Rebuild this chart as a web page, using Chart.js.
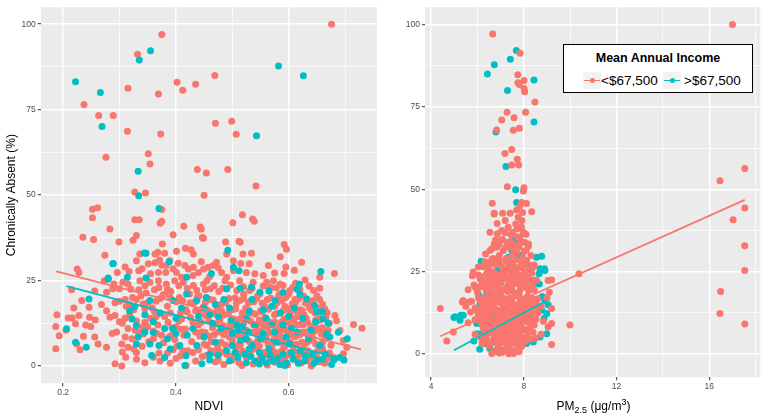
<!DOCTYPE html>
<html><head><meta charset="utf-8">
<script src="https://cdn.jsdelivr.net/npm/chart.js@4/dist/chart.umd.min.js"></script>
<style>
html,body{margin:0;padding:0;background:#fff;}
#wrap{position:relative;width:767px;height:414px;overflow:hidden;font-family:'Liberation Sans',Arial,sans-serif;}
.box{position:absolute;top:0;height:414px;}
#xt2{position:absolute;left:493.5px;width:200px;top:399px;line-height:14px;text-align:center;font-size:12px;color:#000;white-space:nowrap;}
#xt2 sub{font-size:9px;vertical-align:-3px;line-height:0;}
#xt2 sup{font-size:9px;vertical-align:5px;line-height:0;}
#legend{position:absolute;left:563px;top:44px;width:190px;height:49px;border:1.5px solid #000;background:#fff;box-sizing:border-box;}
#legend .t{position:absolute;left:0;right:0;top:6px;text-align:center;font-weight:bold;font-size:12.5px;line-height:15px;color:#000;}
#legend .k{position:absolute;top:27px;width:18px;height:17px;background:#f2f2f2;}
#legend .k i{position:absolute;left:1px;right:1px;top:7.5px;height:1.6px;}
#legend .k b{position:absolute;left:6.5px;top:6px;width:5px;height:5px;border-radius:50%;}
#legend .l{position:absolute;top:28px;font-size:13.5px;line-height:16px;color:#000;}
</style></head><body>
<div id="wrap">
 <div class="box" style="left:0;width:383px"><canvas id="c1"></canvas></div>
 <div class="box" style="left:383px;width:384px"><canvas id="c2"></canvas></div>
 <div id="xt2">PM<sub>2.5</sub> (μg/m<sup>3</sup>)</div>
 <div id="legend">
  <div class="t">Mean Annual Income</div>
  <div class="k" style="left:19px"><i style="background:#F8766D"></i><b style="background:#F8766D"></b></div>
  <div class="l" style="left:37px">&lt;$67,500</div>
  <div class="k" style="left:99px"><i style="background:#00BFC4"></i><b style="background:#00BFC4"></b></div>
  <div class="l" style="left:120px">&gt;$67,500</div>
 </div>
</div>
<script>
const seriesNames = ['<$67,500', '>$67,500'];
const xTicksNdviMajor = [0.2, 0.4, 0.6];
const xTicksNdviMinor = [0.3, 0.5, 0.7];
const xTicksPmMajor = [4, 8, 12, 16];
const xTicksPmMinor = [6, 10, 14, 18];
const yTicksMajor = [0, 25, 50, 75, 100];
const yTicksMinor = [12.5, 37.5, 62.5, 87.5];

// NDVI panel, income < $67,500
const ndviLow = [
[0.676,100],[0.375,97],[0.332,91.2],[0.402,83],[0.412,80.7],[0.435,82.4],[0.469,85],[0.315,81.3],[0.369,79.6],[0.237,76.5],[0.263,73.3],[0.289,73.3],[0.314,68.7],[0.373,67.9],[0.470,71],[0.499,71.6],[0.507,67.8],[0.276,61.1],[0.351,62.1],[0.354,59.1],[0.438,57.5],[0.454,56.5],[0.492,57.5],[0.542,52.7],[0.327,50.9],[0.346,50.6],[0.450,50],[0.252,45.9],[0.261,46.3],[0.252,43.4],[0.375,45.8],[0.327,42.8],[0.335,42.8],[0.375,42.4],[0.372,41.8],[0.414,40.9],[0.443,40.7],[0.445,40.1],[0.448,37.4],[0.501,41.9],[0.518,44.3],[0.536,43],[0.539,42.4],[0.395,38.4],[0.283,40.1],[0.235,37.7],[0.254,37],[0.299,36.3],[0.324,36.8],[0.330,38.2],[0.376,35.7],[0.488,36.3],[0.512,36.5],[0.592,35.6],[0.274,32.4],[0.623,30.4],[0.681,27.1],
[0.336,32.8],[0.363,32.8],[0.368,33.3],[0.380,33],[0.401,33.6],[0.417,34.5],[0.431,32.8],[0.427,34],[0.447,37.6],[0.389,30.8],[0.330,30.8],[0.351,29.9],[0.363,30.2],[0.371,31],[0.383,29.4],[0.404,30.1],[0.416,29.4],[0.431,28.9],[0.449,28.4],[0.225,28.4],[0.228,27.4],[0.296,27.4],[0.317,27.7],[0.334,27.9],[0.369,27.4],[0.382,27.4],[0.401,27.4],[0.422,28.4],[0.440,27.4],
[0.490,32.8],[0.519,32.8],[0.514,36.2],[0.534,33],[0.472,30.4],[0.502,30.8],[0.530,29.9],[0.466,29.4],[0.457,28.9],[0.564,29.4],[0.481,27.4],[0.502,27.9],[0.525,27.4],[0.592,27.1],[0.449,37.5],
[0.273,25],[0.306,24.5],[0.315,24],[0.336,25],[0.354,24.5],[0.369,25],[0.383,24],[0.398,25],[0.413,24.5],[0.431,23.6],[0.449,24],[0.455,25],[0.487,25],[0.513,25],[0.537,24.5],[0.561,24.5],[0.573,25],[0.585,24],[0.612,24.2],[0.629,25.2],
[0.215,22.3],[0.256,22],[0.277,21.6],[0.288,22.6],[0.300,22.6],[0.323,20.1],[0.334,22.3],[0.347,21.4],[0.362,22.3],[0.377,20.8],[0.391,21.8],[0.406,20.1],[0.424,21.1],[0.441,20.6],[0.461,22.6],[0.476,21.8],[0.508,22.1],[0.531,22.1],[0.549,21.1],[0.566,22.6],[0.584,21.1],[0.602,22.1],[0.644,22.1],[0.650,20.6],
[0.233,19.2],[0.246,17.2],[0.277,16.2],[0.292,18.5],[0.31,19.5],[0.342,18.2],[0.358,17],[0.372,19.8],[0.385,17.5],[0.401,18.8],[0.418,16.5],[0.432,18.5],[0.448,17.2],[0.46,19.5],[0.473,16.8],[0.488,18.5],[0.5,16.5],[0.513,19.2],[0.524,17],[0.538,18.8],[0.55,16.2],[0.562,19.5],[0.575,17.5],[0.588,19.2],[0.598,16.8],[0.612,18.5],[0.624,16.2],[0.636,18],[0.655,19.5],[0.664,16.7],
[0.189,15],[0.187,11.6],[0.209,14.1],[0.216,14.1],[0.222,12.4],[0.228,14.8],[0.247,14.3],[0.249,11.6],[0.257,13.5],[0.283,14.3],[0.292,14.8],[0.305,12.5],[0.318,15],[0.33,13.2],[0.341,11.5],[0.355,14],[0.368,12],[0.38,14.5],[0.393,11.2],[0.405,13.2],[0.417,10.8],[0.426,14.2],[0.44,12],[0.452,14.8],[0.465,11.2],[0.478,13.5],[0.49,10.5],[0.502,13.8],[0.514,11.5],[0.526,14.5],[0.538,12],[0.548,10.2],[0.558,14.2],[0.57,12.2],[0.58,10.5],[0.592,13.8],[0.604,11.5],[0.616,14.5],[0.626,12.2],[0.638,10.8],[0.648,13.5],[0.66,11.2],[0.682,14.8],[0.685,13.3],[0.715,12.2],[0.73,11.1],[0.672,12.5],
[0.193,8.9],[0.236,8.7],[0.224,6.5],[0.256,8.5],[0.262,6.5],[0.277,5.5],[0.295,10],[0.304,6.5],[0.342,9.4],[0.322,8],[0.352,7.2],[0.366,9.5],[0.378,6.8],[0.39,8.8],[0.402,5.8],[0.414,9],[0.428,7.2],[0.442,8.8],[0.455,6],[0.468,9.2],[0.48,7],[0.495,8.5],[0.506,5.5],[0.518,9.5],[0.53,7.2],[0.542,5.2],[0.552,8.6],[0.564,6.2],[0.576,9],[0.586,6.8],[0.597,8.2],[0.608,5.8],[0.62,9.2],[0.632,6.8],[0.642,8.5],[0.654,5.5],[0.665,8.2],[0.691,10.4],[0.697,7.5],
[0.187,5.1],[0.23,4.8],[0.305,4.1],[0.311,2.6],[0.292,0.7],[0.304,0],[0.36,2.6],[0.385,3.8],[0.4,2.2],[0.418,0.2],[0.43,4],[0.447,2.8],[0.462,4.5],[0.475,1.8],[0.49,3.5],[0.517,0.2],[0.53,3.2],[0.545,1.5],[0.556,4],[0.568,2],[0.58,3.8],[0.592,1.2],[0.603,3.5],[0.615,1.8],[0.638,2.6],[0.65,4.2],[0.664,0.8],[0.679,2.6],[0.703,5.5],[0.697,3.6],[0.64,0],
[0.505,20],[0.515,14],[0.52,21],[0.525,2.5],[0.535,15.5],[0.54,10],[0.545,20.5],[0.548,13.5],[0.553,3],[0.557,17.5],[0.56,8.5],[0.565,13],[0.568,23],[0.572,4.5],[0.575,15],[0.578,11],[0.582,20.5],[0.585,2.5],[0.588,13],[0.59,7.5],[0.593,17.5],[0.596,10.5],[0.6,21],[0.602,4],[0.605,14],[0.608,9],[0.611,19.5],[0.614,12],[0.617,3],[0.62,16.5],[0.623,7],[0.626,20.5],[0.628,10],[0.631,14],[0.634,4.5],[0.637,17],[0.64,11.5],[0.643,8],[0.647,15.5],[0.65,2.5],[0.653,11],[0.657,17],[0.66,7],[0.568,6.5],[0.556,11.5],[0.545,7.5],[0.533,19],[0.525,10.5],[0.512,6.5],[0.498,11.5],[0.485,15],[0.472,4.5],[0.459,16],[0.446,10],[0.435,19],[0.421,4.5],[0.408,15.5],[0.395,9.5],[0.38,21],[0.362,16],[0.35,11.5],[0.338,20.5],[0.325,5],[0.312,17.5],[0.3,13],[0.287,9.5],[0.268,18],[0.24,12],[0.219,17],[0.205,10.5],
[0.61,28],[0.595,29],[0.655,26],[0.585,32],[0.596,34.2],
[0.47,1.2],[0.485,0.5],[0.5,1.8],[0.512,1],[0.537,0.6],[0.55,2.2],[0.562,0.3],[0.575,1.1],[0.598,0.4],[0.61,2.5],[0.622,0.9],[0.633,1.6],[0.655,1.2],[0.668,2.2],
[0.455,3.2],[0.468,3.8],[0.482,4.1],[0.497,2.9],[0.51,3.6],[0.518,4.4],[0.535,4.8],[0.562,3.3],[0.574,3.1],[0.588,4.5],[0.596,3],[0.61,4.2],[0.627,3.4],[0.645,2.9],[0.66,4.6],[0.672,3.8],
[0.45,6.4],[0.462,7.1],[0.474,5.6],[0.488,6.2],[0.5,7.4],[0.514,6.1],[0.524,7.8],[0.537,6.4],[0.548,5.9],[0.558,7.6],[0.57,5.4],[0.582,7.8],[0.592,5.5],[0.603,7],[0.614,6.4],[0.626,5.2],[0.637,7.5],[0.648,6.5],[0.66,5.2],[0.675,6.1],
[0.452,9.8],[0.461,8.7],[0.476,10],[0.485,9.2],[0.508,9],[0.522,8.4],[0.534,9.9],[0.545,9.1],[0.566,9.8],[0.574,8],[0.584,9.4],[0.59,10.8],[0.6,9.6],[0.612,8.6],[0.624,9.9],[0.634,9.2],[0.646,10.2],[0.658,9.4],[0.67,10.5],
[0.445,12.8],[0.458,13.2],[0.472,12.4],[0.484,11.8],[0.496,12.2],[0.508,13],[0.52,12.6],[0.532,13.2],[0.543,11.8],[0.553,12.8],[0.562,11.5],[0.575,13],[0.586,12],[0.598,12.8],[0.609,13.4],[0.62,12.2],[0.633,12.8],[0.644,11.8],[0.655,13.4],[0.666,14.2],
[0.442,15.8],[0.455,16.3],[0.466,15.4],[0.481,16.2],[0.493,15.3],[0.506,16.8],[0.518,15.6],[0.529,16.4],[0.541,15.2],[0.553,15.9],[0.564,16.6],[0.578,15.3],[0.59,16.2],[0.602,15.4],[0.614,16],[0.627,15.1],[0.641,16.3],[0.653,15.2],[0.668,15.7],
[0.438,20.2],[0.452,18.6],[0.466,19.3],[0.48,18.1],[0.494,19.8],[0.507,18.4],[0.52,19.7],[0.529,18.6],[0.543,19.8],[0.553,18.4],[0.568,19.9],[0.58,18.6],[0.595,20.1],[0.606,18.2],[0.618,19.8],[0.63,18.4],[0.643,19.2],[0.66,18.1],
[0.452,22.3],[0.468,23.5],[0.483,22.8],[0.497,23.7],[0.52,23.2],[0.535,22.7],[0.555,23.4],[0.578,22.9],[0.59,23.6],[0.607,23],[0.62,22.5],[0.636,23.4],[0.655,22.8],
[0.33,2],[0.345,1],[0.372,1.5],[0.39,0.8],[0.408,3],[0.435,1.5],
[0.315,5.5],[0.33,4],[0.34,5.8],[0.37,3.8],[0.395,4.8],[0.412,4.5],[0.44,4.8],
[0.31,8.5],[0.335,9.8],[0.36,8],[0.375,9],[0.398,7.8],[0.41,10.8],[0.435,10],
[0.315,11],[0.328,10.5],[0.345,12.8],[0.36,10.2],[0.386,12.8],[0.4,11.5],[0.43,12.8],
[0.31,14],[0.325,16.5],[0.345,16.8],[0.365,14.5],[0.39,15.5],[0.41,13.8],[0.42,15.8],[0.435,16.2],
[0.3,19],[0.318,18],[0.33,19.5],[0.35,18.5],[0.365,19],[0.39,20],[0.412,19.2],[0.425,18.5],
[0.29,24],[0.32,22.5],[0.345,23.5],[0.37,23],[0.385,22.5],[0.405,23.5],[0.42,22.8],[0.437,22.2],
[0.31,29],[0.34,28.5],[0.355,27],[0.375,29.5],[0.395,28.5],[0.41,26],[0.43,26.5],[0.445,30.5],[0.46,26.2],[0.475,28.8],[0.49,26],[0.515,30],[0.54,27],[0.555,26.5],[0.575,27.2]
];

// NDVI panel, income > $67,500
const ndviHigh = [
[0.355,92.2],[0.335,89.5],[0.222,83.2],[0.582,87.8],[0.626,84.9],[0.266,80],[0.269,70.1],[0.543,67.4],[0.333,57],[0.334,49.8],[0.370,46.1],[0.344,33.1],[0.492,33.9],[0.289,30],[0.657,27.7],[0.280,25.8],
[0.347,33],[0.288,29.9],[0.280,25.5],[0.314,26],[0.388,30.5],[0.347,25.8],[0.419,26],[0.463,27.1],[0.502,28.9],[0.512,27.9],[0.619,24],[0.490,22.6],[0.514,22.8],[0.534,23.1],[0.615,22.5],[0.549,21.6],[0.576,19.2],[0.62,21],[0.632,19.6],[0.646,17.7],[0.65,16],[0.585,15.5],
[0.246,19.6],[0.327,17.4],[0.318,16.2],[0.354,19.2],[0.395,19.2],[0.419,21.1],[0.437,19.2],[0.454,20.1],
[0.206,10.9],[0.222,7],[0.241,5.5],[0.330,11.9],[0.333,8.5],[0.330,6.5],[0.354,6.5],[0.357,3.1],[0.37,6],[0.385,8],[0.395,11],[0.407,6],[0.42,9],[0.43,11],[0.418,3],[0.437,6],[0.446,0.7],[0.416,0.2],[0.45,8.5],[0.46,3.5],[0.47,7],[0.48,11],[0.49,4.5],[0.5,9.5],[0.508,12],[0.515,7.5],[0.522,3.5],[0.528,10],[0.535,6],[0.54,1.5],[0.548,4],[0.555,9.5],[0.56,1],[0.565,5],[0.572,1.5],[0.578,7],[0.584,0.5],[0.59,3.5],[0.596,1],[0.601,6.5],[0.608,2],[0.615,10],[0.62,4.5],[0.628,1.5],[0.635,8],[0.642,3.5],[0.648,13],[0.655,6],[0.661,13.8],[0.667,9.4],[0.673,8.5],[0.688,9.9],[0.704,8],[0.698,1.8],[0.68,1.8],[0.66,2],[0.645,0.8],
[0.505,4],[0.498,13.5],[0.525,13.8],[0.465,12.5],[0.475,14.5],[0.53,16],[0.57,12],[0.6,14.5],[0.61,17],[0.555,16.5],[0.535,19.5],[0.57,17.5],[0.565,22],[0.59,21.5],
[0.36,13],[0.372,15.5],[0.38,11],[0.4,14],[0.41,17],[0.345,15],[0.322,13.8],
[0.46,1.8],[0.475,3.2],[0.495,1.5],[0.51,2.5],[0.525,1],[0.533,2.8],[0.548,0.6],[0.553,2.4],[0.567,3.2],[0.58,2.3],[0.593,0.2],[0.605,3.8],[0.617,0.8],[0.63,3],[0.65,1.8],[0.665,3.5],[0.676,0.5],[0.69,2.5],
[0.5,6],[0.51,10.5],[0.518,11.5],[0.525,8],[0.53,5],[0.54,12.2],[0.55,8],[0.56,14],[0.575,10],[0.59,12],[0.595,8.5],[0.605,11],[0.625,14],[0.64,10.5],[0.66,16],[0.67,12.5],[0.44,14.5],[0.45,17],[0.46,15],[0.47,18],[0.485,19.5],[0.495,17],[0.39,5],[0.38,2.5],[0.4,9.5],[0.36,9.8],[0.345,10]
];

// PM2.5 panel, income < $67,500
const pmLow = [
[17.0,100],[6.66,97.1],[7.84,91.3],[7.74,84.8],[7.75,82.3],[8.01,83],[8.01,80.6],[8.04,79.6],[7.81,81.8],[8.48,76.5],[8.08,73.4],[7.28,73.4],[7.05,71],[7.58,71.7],[7.81,68.5],[7.55,67.9],[6.83,68],[7.19,60.9],[7.48,62.1],[7.72,59.1],[7.48,57.4],[7.78,57.4],[17.53,56.3],[16.46,52.6],[7.29,50.8],[8.01,50.5],[7.98,49.5],[6.64,45.8],[7.91,46],[8.12,45.7],[17.53,44.3],[8.34,43.2],[6.73,42.7],[7.09,42.7],[17.03,40.8],[17.53,32.9],[17.53,25.4],[16.49,19],[16.46,12.3],[17.53,9.1],[10.38,24.4],[9.99,8.8],[9.2,2.9],[9.2,9.3],[4.4,13.8],[4.68,4],[4.96,6.7],[5.35,15.8],[5.65,15.8],[9.2,22.5],[9.05,22.3],
[6.72,42.5],[7.41,42.7],[7.69,43.7],[7.84,45],[7.95,43],[7.2,40.5],[7.76,41.5],[7.92,40.5],
[6.54,37],[6.86,36.5],[7.05,37.5],[7.33,38.5],[7.52,37],[7.72,38],[7.84,35.4],[7.98,37],[6.97,34.4],[6.72,33.4],[7.29,33.9],[7.62,33.4],[8.05,33.9],[8.2,33.4],
[6.35,30.4],[6.54,31.4],[6.7,29],[6.83,32.4],[6.95,30],[7.12,31.4],[7.25,29],[7.35,32.5],[7.5,30],[7.69,30.9],[7.8,32.5],[7.95,29.5],[8.1,31.5],[8.31,29.9],[8.2,32.7],
[6.04,26.4],[5.82,24.9],[6.05,24],[6.25,26.5],[6.4,24.5],[6.55,27.5],[6.7,25],[6.85,24],[7.0,27],[7.15,25],[7.3,27.8],[7.45,24.5],[7.6,26.5],[7.75,24],[7.9,27.5],[8.05,25],[8.2,27],[8.35,24.5],[8.45,27],[8.41,26.4],
[5.6,19.5],[5.85,21],[6.0,19],[6.18,22.9],[6.2,22],[6.35,20],[6.5,22.5],[6.65,19],[6.8,21.5],[6.95,19.5],[7.1,22.8],[7.25,20],[7.4,22],[7.55,19],[7.7,21.5],[7.85,19.5],[8.0,22.5],[8.15,20],[8.3,22.5],[8.45,19.5],[5.78,23.8],[8.55,22.4],
[5.5,14.5],[5.39,16.3],[5.75,16],[5.9,14],[6.05,17],[6.2,15],[6.35,17.5],[6.5,14.2],[6.65,16.5],[6.8,13.5],[6.95,17.5],[7.1,15],[7.25,13.8],[7.4,17],[7.55,15],[7.7,13.5],[7.85,16.5],[8.0,14.5],[8.15,17.5],[8.3,15],[8.45,13.5],[8.6,16.8],[8.75,14.5],[9.0,17],[9.1,18.8],[9.2,13.8],
[5.9,10.5],[6.05,12],[6.2,9],[6.35,11.5],[6.5,8.5],[6.65,12.5],[6.8,10],[6.95,8.2],[7.1,11.8],[7.25,9.5],[7.4,12.5],[7.55,9],[7.7,11],[7.85,8.5],[8.0,12],[8.15,9.8],[8.3,11.5],[8.45,8.8],[8.6,12.5],[5.7,12.8],[5.6,9.5],[8.85,10],[9.05,8.2],
[6.15,5],[6.3,7],[6.45,4],[6.6,6.5],[6.75,3.5],[6.9,7.5],[7.05,5],[7.2,3.5],[7.3,7],[7.45,5.5],[7.6,4],[7.75,7],[7.9,5],[8.05,3.8],[8.2,6.5],[6.2,3.2],[8.5,4.8],[8.75,6],[5.9,6],
[6.62,0.2],[6.85,1.5],[7.05,0.5],[7.25,1.8],[7.35,0.1],[7.55,0.2],[7.7,1.5],[6.5,2.5],[7.9,2.2],[6.95,2.8],[7.45,3],
[6.9,12],[7.15,7],[7.35,10.5],[7.6,11.5],[7.0,15.5],[7.3,19],[7.5,21],[6.75,18],[7.8,18.5],[7.65,6],[6.55,10.5],[7.95,10],[7.2,25.5],[6.6,23],[7.9,23],
[6.72,0.8],[6.95,0.3],[7.15,1.2],[7.45,1],[7.62,0.6],[7.8,0.8],
[6.35,4.8],[6.55,3.5],[6.68,4.6],[6.85,4.2],[6.98,3.6],[7.12,4.4],[7.28,4.9],[7.38,3.8],[7.52,4.6],[7.68,3.4],[7.82,4.1],[7.98,4.4],[8.12,5.2],[8.3,4.5],
[6.25,8],[6.42,6.2],[6.52,7.4],[6.7,7.8],[6.82,6.2],[6.98,6.5],[7.1,7.9],[7.22,6.1],[7.38,8],[7.5,7.3],[7.62,8.1],[7.72,5.6],[7.85,6.3],[7.98,7.8],[8.1,7.2],[8.28,8.4],[8.4,6.6],
[6.1,10.2],[6.28,10.3],[6.42,9.4],[6.58,10.6],[6.72,9.1],[6.88,10.8],[7.02,9.8],[7.18,10.6],[7.32,9],[7.48,10.4],[7.63,9.6],[7.78,10],[7.92,11.2],[8.08,10.4],[8.22,10.8],[8.38,10.2],[8.52,10.6],
[5.98,13.2],[6.12,13.5],[6.28,12.8],[6.42,13.7],[6.58,12.4],[6.72,14.2],[6.88,12.8],[7.02,13.2],[7.18,12.6],[7.32,14.3],[7.48,12.7],[7.62,13.6],[7.78,12.8],[7.92,13.2],[8.08,12.4],[8.22,13.9],[8.38,12.8],[8.52,14.2],
[6.12,16.2],[6.28,16.4],[6.42,15.6],[6.58,17.2],[6.72,15.4],[6.88,16.2],[7.02,17.8],[7.18,16.8],[7.32,15.8],[7.48,16.4],[7.62,17.6],[7.78,15.2],[7.92,16.8],[8.08,16.2],[8.22,15.6],[8.38,16.8],[8.52,15.2],
[5.92,20.2],[6.1,20.4],[6.28,21.2],[6.42,19.4],[6.58,20.6],[6.72,21.2],[6.88,20.2],[7.02,21.6],[7.18,19.6],[7.32,21],[7.48,20.4],[7.62,22.6],[7.78,21.2],[7.92,20.8],[8.08,21.4],[8.22,19.2],[8.38,20.8],
[6.12,22.8],[6.32,23.6],[6.48,24.8],[6.62,23.2],[6.78,22.6],[6.92,23.8],[7.08,24.2],[7.22,23.2],[7.38,25.4],[7.52,23.2],[7.68,25.6],[7.82,22.8],[7.98,24.2],[8.12,23.4],[8.28,25.6],
[6.32,28],[6.48,26.4],[6.62,28.8],[6.78,27.2],[6.92,28.4],[7.08,26.2],[7.22,28.6],[7.38,26.4],[7.52,27.8],[7.68,28.6],[7.82,26.2],[7.98,26.6],[8.12,28.4],[8.28,26.8],
[6.62,32],[6.78,34.6],[6.92,33.2],[7.08,34.8],[7.22,32.6],[7.42,34.2],[7.58,31.8],[7.72,35.6],[7.88,34.2],[8.02,31.2],[7.45,36.2],[7.65,39.5],[7.9,38.6],[8.1,36.4],[6.85,39.6],[7.2,36.8]
];

// PM2.5 panel, income > $67,500
const pmHigh = [
[7.68,92.1],[7.42,89.5],[6.73,87.8],[6.43,85],[8.44,83.2],[7.30,80],[8.44,70.4],[6.80,67.4],[7.23,56.9],[7.65,49.9],[7.69,46],[8.77,29.7],[8.89,25.9],[8.66,24.4],[8.67,21.3],[6.16,28.2],[6.4,21.4],[4.99,11.1],[5.25,10.3],[5.28,11.8],
[6.9,25.9],[6.54,21.3],[6.4,18.8],[6.11,15.3],[5.39,11.8],[5.03,11.3],[5.97,9.3],[6.18,6.2],[6.33,3.2],[6.54,1.7],[6.97,1.2],[7.41,0.7],[6.0,6.2],[5.85,4],[6.1,1.5],
[8.55,29.4],[8.7,25.9],[8.91,25.4],[8.48,22.4],[8.41,20.8],[8.91,16.3],[8.77,13.3],[8.99,12.3],[8.87,10.8],[8.99,6.2],[8.7,5.2],[8.41,3.7],[8.12,3.2],[9.05,15],[8.8,17.5],
[7.33,29.4],[7.48,31.4],[7.69,33.4],[7.8,30],[6.83,16.3],[7.1,16.3],[6.47,13.3],[6.69,11.3],[6.55,8],[6.25,12],[6.05,18],[7.6,34.5]
];

const ndviFitLow = [[0.188,27.7],[0.728,4.9]];
const ndviFitHigh = [[0.206,23.4],[0.703,1.75]];
const pmFitLow = [[4.40,5.4],[17.53,46.8]];
const pmFitHigh = [[4.99,1.2],[8.99,16.3]];

const RED = '#F8766D', TEAL = '#00BFC4';
const F = "'Liberation Sans', Arial, sans-serif";
const toXY = a => a.map(p => ({x: p[0], y: p[1]}));

const panelBg = {
  id: 'panelBg',
  beforeDraw(chart) {
    const {ctx, chartArea: a} = chart;
    ctx.save();
    ctx.fillStyle = '#EBEBEB';
    ctx.fillRect(a.left, a.top, a.right - a.left, a.bottom - a.top);
    ctx.restore();
  }
};

function axis(cfg) {
  const all = cfg.major.concat(cfg.minor);
  const isMaj = c => c.tick && cfg.major.includes(c.tick.value);
  return {
    type: 'linear', position: cfg.pos, min: cfg.min, max: cfg.max,
    afterBuildTicks: s => { s.ticks = all.map(v => ({value: v})); },
    afterFit: s => { if (cfg.pos === 'bottom') s.height = cfg.size; else s.width = cfg.size; },
    ticks: {autoSkip: false, maxRotation: 0, padding: cfg.pos === 'bottom' ? 1 : 2, color: '#4d4d4d',
      font: {size: 8.5, family: F},
      callback: v => cfg.major.includes(v) ? String(v) : ''},
    grid: {color: '#ffffff', lineWidth: c => isMaj(c) ? 1.4 : 0.7, drawTicks: true, tickLength: 3, tickWidth: 1,
      tickColor: c => isMaj(c) ? '#333333' : 'rgba(0,0,0,0)'},
    border: {display: false},
    title: {display: !!cfg.title, text: cfg.title || '', color: '#000', font: {size: 12, family: F, lineHeight: 1.2},
      padding: cfg.pos === 'bottom' ? {top: 0, bottom: 0.5} : {top: 4, bottom: 0}}
  };
}

function pts(data, color) {
  return {type: 'scatter', data: toXY(data), backgroundColor: color, borderWidth: 0, pointRadius: 3.5, pointHoverRadius: 3.5};
}
function fit(data, color) {
  return {type: 'line', data: toXY(data), borderColor: color, borderWidth: 1.7, pointRadius: 0, fill: false, tension: 0};
}

const common = {responsive: true, maintainAspectRatio: false, animation: false, events: [],
  plugins: {legend: {display: false}, tooltip: {enabled: false}}};

new Chart(document.getElementById('c1'), {
  type: 'scatter',
  data: {datasets: [
    Object.assign(fit(ndviFitLow, RED), {label: seriesNames[0] + ' fit'}),
    Object.assign(fit(ndviFitHigh, TEAL), {label: seriesNames[1] + ' fit'}),
    Object.assign(pts(ndviHigh, TEAL), {label: seriesNames[1]}),
    Object.assign(pts(ndviLow, RED), {label: seriesNames[0]})
  ]},
  options: Object.assign({}, common, {
    layout: {padding: {left: 0, top: 6.2, right: 6, bottom: 0}},
    scales: {
      x: axis({pos: 'bottom', min: 0.1604, max: 0.7566, major: xTicksNdviMajor, minor: xTicksNdviMinor, size: 30.8, title: 'NDVI'}),
      y: axis({pos: 'left', min: -5, max: 105, major: yTicksMajor, minor: yTicksMinor, size: 40.8, title: 'Chronically Absent (%)'})
    }
  }),
  plugins: [panelBg]
});

new Chart(document.getElementById('c2'), {
  type: 'scatter',
  data: {datasets: [
    Object.assign(fit(pmFitLow, RED), {label: seriesNames[0] + ' fit'}),
    Object.assign(fit(pmFitHigh, TEAL), {label: seriesNames[1] + ' fit'}),
    Object.assign(pts(pmLow, RED), {label: seriesNames[0]}),
    Object.assign(pts(pmHigh, TEAL), {label: seriesNames[1]})
  ]},
  options: Object.assign({}, common, {
    layout: {padding: {left: 0, top: 5.5, right: 6.7, bottom: 0}},
    scales: {
      x: axis({pos: 'bottom', min: 3.74, max: 18.2, major: xTicksPmMajor, minor: xTicksPmMinor, size: 36.7, title: ''}),
      y: axis({pos: 'left', min: -7.04, max: 105.29, major: yTicksMajor, minor: yTicksMinor, size: 42, title: ''})
    }
  }),
  plugins: [panelBg]
});
</script>
</body></html>
